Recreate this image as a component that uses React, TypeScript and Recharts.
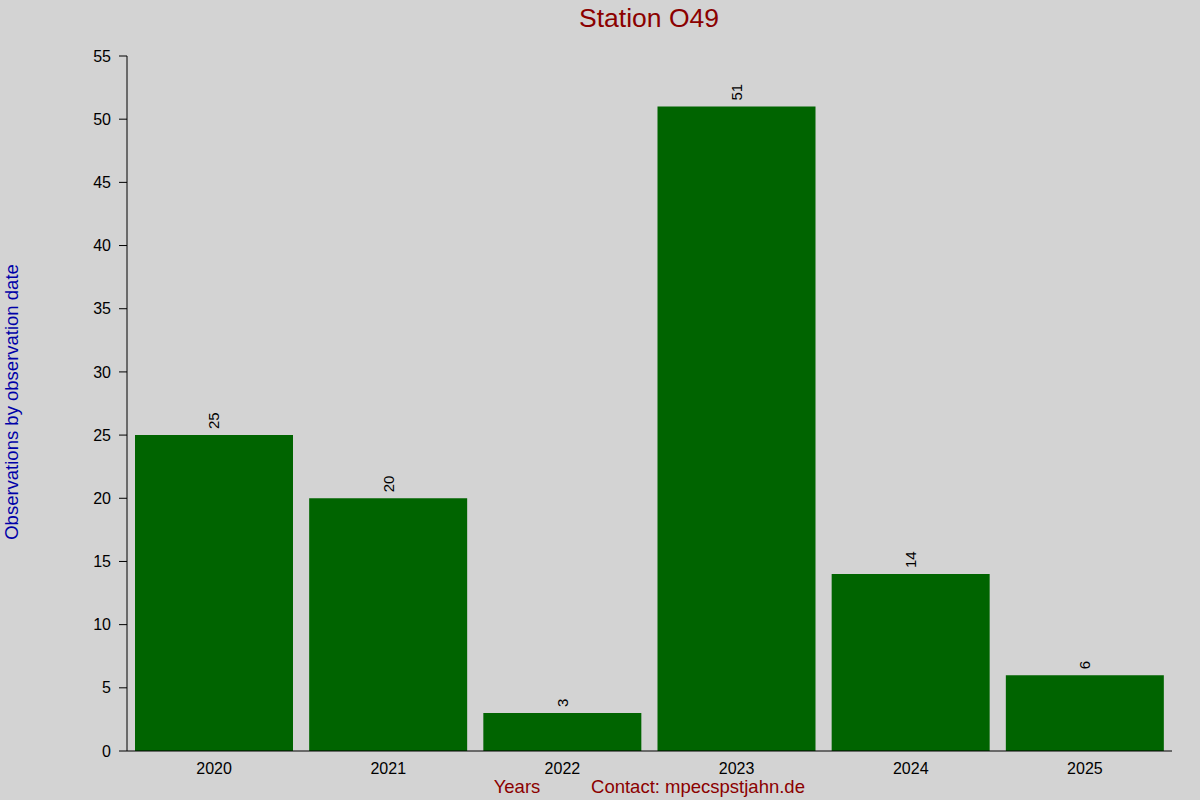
import { Bar, BarChart, LabelList, XAxis, YAxis } from "recharts";

const years = ["2020", "2021", "2022", "2023", "2024", "2025"];
const counts = [25, 20, 3, 51, 14, 6];
const yTicks = [0, 5, 10, 15, 20, 25, 30, 35, 40, 45, 50, 55];

const data = years.map((year, i) => ({ year, count: counts[i] }));

const FONT = "'Liberation Sans', Arial, sans-serif";
const RED = "#8b0000";
const BLUE = "#0000a8";

// value written vertically just above each bar
function BarValue(props: any) {
  const { x, y, width, value } = props;
  const cx = x + width / 2;
  const cy = y - 6;
  return (
    <text
      x={cx}
      y={cy}
      transform={`rotate(-90, ${cx}, ${cy})`}
      textAnchor="start"
      dominantBaseline="central"
      fontSize={15}
      fontFamily={FONT}
      fill="#000"
    >
      {value}
    </text>
  );
}

export default function App() {
  return (
    <div style={{ position: "absolute", left: 0, top: 0, width: 1200, height: 800, background: "#d3d3d3" }}>
      <BarChart
        width={1200}
        height={800}
        data={data}
        margin={{ top: 56, right: 28, bottom: 19, left: 67 }}
        barCategoryGap={8}
        style={{ fontFamily: FONT }}
      >
        <text x={649} y={18} textAnchor="middle" dominantBaseline="central" fontSize={26.5} fill={RED}>
          Station O49
        </text>
        <text
          x={11}
          y={402}
          transform="rotate(-90, 11, 402)"
          textAnchor="middle"
          dominantBaseline="central"
          fontSize={18.5}
          fill={BLUE}
        >
          Observations by observation date
        </text>
        <text x={517} y={786} textAnchor="middle" dominantBaseline="central" fontSize={18.5} fill={RED}>
          Years
        </text>
        <text x={698} y={786} textAnchor="middle" dominantBaseline="central" fontSize={18.5} fill={RED}>
          Contact: mpecspstjahn.de
        </text>
        <XAxis
          dataKey="year"
          height={30}
          tickLine={false}
          axisLine={{ stroke: "#000" }}
          tick={{ fill: "#000", fontSize: 16 }}
          tickMargin={6}
        />
        <XAxis
          dataKey="year"
          xAxisId="top"
          orientation="top"
          height={0}
          axisLine={false}
          tickSize={1}
          tickLine={{ stroke: "#000" }}
          tickFormatter={() => ""}
        />
        <YAxis
          width={60}
          domain={[0, 55]}
          ticks={yTicks}
          interval={0}
          tickSize={8}
          tickLine={{ stroke: "#000" }}
          axisLine={{ stroke: "#000" }}
          tick={{ fill: "#000", fontSize: 16 }}
          tickMargin={8}
        />
        <Bar dataKey="count" fill="#006400" isAnimationActive={false}>
          <LabelList dataKey="count" content={BarValue} />
        </Bar>
      </BarChart>
    </div>
  );
}
